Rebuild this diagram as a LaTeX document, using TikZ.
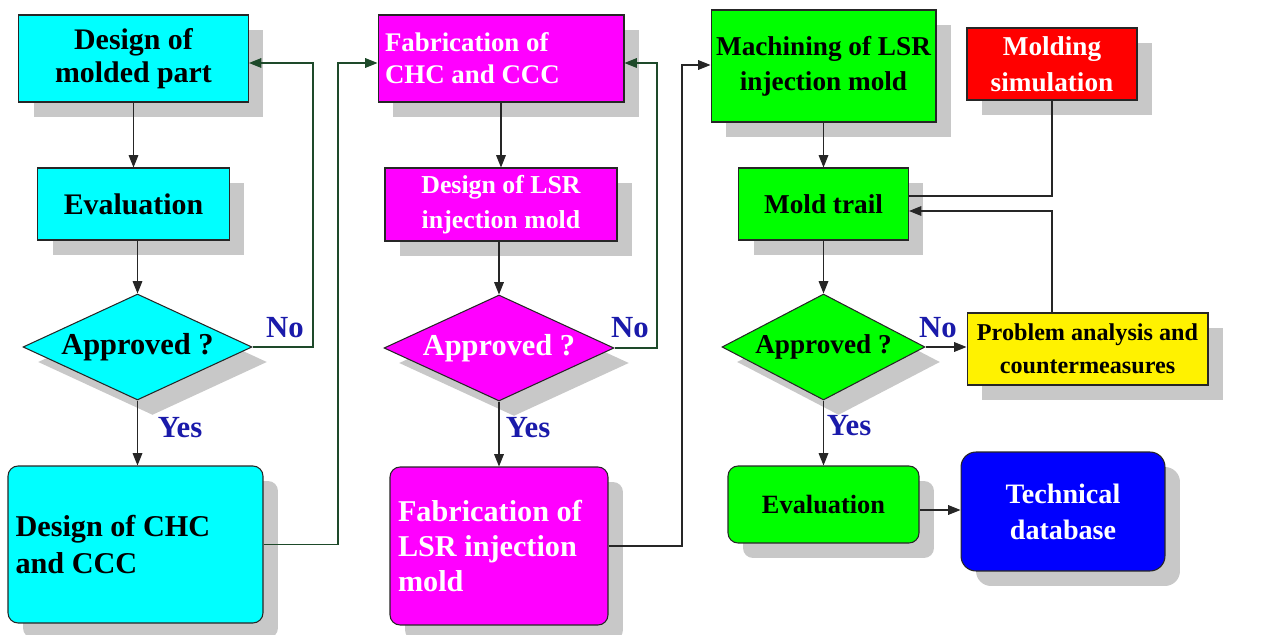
\documentclass[tikz,border=0pt]{standalone}
\usepackage{fontspec}
\setmainfont{Liberation Serif}
\usepackage{xcolor}
\usepackage{tikz}
\usetikzlibrary{shapes.geometric, shadows, arrows.meta}
\definecolor{loopGreen}{HTML}{1E4A2A}
\definecolor{answerBlue}{HTML}{1A1AAA}
\definecolor{shadowGray}{HTML}{C8C8C8}
\definecolor{partCyan}{RGB}{0,255,255}
\definecolor{moldMagenta}{RGB}{255,0,255}
\definecolor{trialGreen}{RGB}{0,255,0}
\newcommand{\boxfont}[2]{\bfseries\fontsize{#1}{#2}\selectfont}

\begin{document}
\begin{tikzpicture}[x=0.02cm, y=-0.02cm,
    box/.style={draw=black!85, line width=0.6pt, inner sep=0pt, align=center,
        drop shadow={shadow xshift=0.3cm, shadow yshift=-0.3cm, fill=shadowGray, opacity=1}},
    block/.style={box, rectangle},
    rblock/.style={box, rectangle, rounded corners=0.2cm},
    decision/.style={box, diamond, aspect=2.16, minimum height=2.12cm},
    flow/.style={-{Triangle[width=5.5pt,length=7pt]}, line width=0.6pt, black!85},
    loopflow/.style={flow, loopGreen},
    answer/.style={text=answerBlue, font={\boxfont{17.5}{20}}}]

    \useasboundingbox (0,0) rectangle (1282,635);

    % first column: part design
    \node[block, fill=partCyan, minimum width=4.6cm, minimum height=1.74cm, font={\boxfont{17}{19}}]
        (dmp) at (133.5,58.5) {Design of\\molded part};
    \node[block, fill=partCyan, minimum width=3.84cm, minimum height=1.44cm, font={\boxfont{17}{20}}]
        (ev1) at (133.5,204) {Evaluation};
    \node[decision, fill=partCyan, minimum width=4.58cm, font={\boxfont{17.3}{20}}]
        (ap1) at (137.5,347) {Approved ?};
    \node[rblock, fill=partCyan, minimum width=5.1cm, minimum height=3.14cm, text width=4.8cm,
        inner xsep=0.15cm, align=flush left, font={\boxfont{17.2}{21.6}}]
        (dchc) at (135.5,544.5) {Design of CHC\\and CCC};

    % second column: mold design
    \node[block, fill=moldMagenta, text=white, minimum width=4.92cm, minimum height=1.74cm, text width=4.64cm,
        inner xsep=0.14cm, align=flush left, font={\boxfont{15.3}{18.2}}]
        (fchc) at (501,58.5) {Fabrication of\\CHC and CCC};
    \node[block, fill=moldMagenta, text=white, minimum width=4.64cm, minimum height=1.46cm, font={\boxfont{14.7}{20}}]
        (dlsr) at (501,204.5) {Design of LSR\\injection mold};
    \node[decision, fill=moldMagenta, text=white, minimum width=4.6cm, font={\boxfont{17.3}{20}}]
        (ap2) at (499,348) {Approved ?};
    \node[rblock, fill=moldMagenta, text=white, minimum width=4.36cm, minimum height=3.16cm, text width=4.04cm,
        inner xsep=0.16cm, align=flush left, font={\boxfont{17.2}{20.2}}]
        (flsr) at (499,546) {Fabrication of\\LSR injection\\mold};

    % third column: trial and evaluation
    \node[block, fill=trialGreen, minimum width=4.5cm, minimum height=2.24cm, font={\boxfont{15.5}{20}}]
        (mach) at (823.5,66) {Machining of LSR\\injection mold};
    \node[block, fill=red, text=white, minimum width=3.4cm, minimum height=1.44cm, font={\boxfont{15.5}{20.5}}]
        (msim) at (1052,64) {Molding\\simulation};
    \node[block, fill=trialGreen, minimum width=3.4cm, minimum height=1.44cm, font={\boxfont{15.5}{20}}]
        (trail) at (823.5,204) {Mold trail};
    \node[decision, fill=trialGreen, minimum width=4.06cm, font={\boxfont{15.5}{19}}]
        (ap3) at (823.5,347) {Approved ?};
    \node[block, fill=yellow, minimum width=4.82cm, minimum height=1.44cm, font={\boxfont{13.75}{18.5}}]
        (prob) at (1087.5,349) {Problem analysis and\\countermeasures};
    \node[rblock, fill=trialGreen, minimum width=3.82cm, minimum height=1.54cm, font={\boxfont{15}{19}}]
        (ev2) at (823.5,504.5) {Evaluation};
    \node[rblock, rounded corners=0.3cm, fill=blue, text=white, minimum width=4.08cm, minimum height=2.38cm,
        font={\boxfont{16}{20.5}}]
        (tdb) at (1063,511.5) {Technical\\database};

    % answers
    \node[answer] (no1) at (285,328) {No};
    \node[answer] (yes1) at (180,428) {Yes};
    \node[answer] (no2) at (630,328) {No};
    \node[answer] (yes2) at (528,428) {Yes};
    \node[answer] (no3) at (938,328) {No};
    \node[answer] (yes3) at (849,426) {Yes};

    % turning points of the loops
    \coordinate (fb1) at (313,63);
    \coordinate (fb2) at (338,63);
    \coordinate (fb3) at (657,63);
    \coordinate (fb4) at (682,65);

    \draw[flow] (dmp.south) -- (ev1.north);
    \draw[flow] (ev1.south -| ap1.north) -- (ap1.north);
    \draw[loopflow] (ap1.east) -| (fb1) -- (fb1 -| dmp.east);
    \draw[flow] (ap1.south) -- (ap1.south |- dchc.north);
    \draw[loopflow] (dchc.east) -| (fb2) -- (fb2 -| fchc.west);

    \draw[flow] (fchc.south) -- (dlsr.north);
    \draw[flow] (dlsr.south -| ap2.north) -- (ap2.north);
    \draw[loopflow] (ap2.east) -| (fb3) -- (fb3 -| fchc.east);
    \draw[flow] (ap2.south) -- (flsr.north);
    \draw[flow] (flsr.east) -| (fb4) -- (fb4 -| mach.west);

    \draw[flow] (mach.south) -- (trail.north);
    \draw[line width=0.6pt, black!85] (msim.south) |- ([yshift=0.16cm]trail.east);
    \draw[flow] (prob.north -| msim.south) |- ([yshift=-0.14cm]trail.east);
    \draw[flow] (trail.south) -- (ap3.north);
    \draw[flow] (ap3.east) -- (ap3.east -| prob.west);
    \draw[flow] (ap3.south) -- (ev2.north);
    \draw[flow] ([yshift=-0.11cm]ev2.east) -- ([yshift=-0.11cm]ev2.east -| tdb.west);
\end{tikzpicture}
\end{document}
